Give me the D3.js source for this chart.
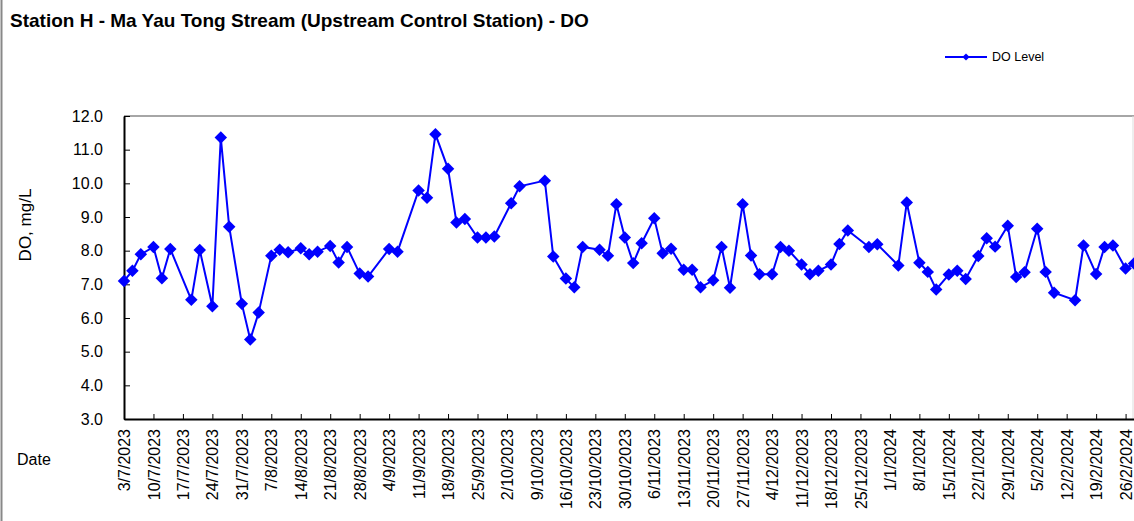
<!DOCTYPE html>
<html>
<head>
<meta charset="utf-8">
<script src="https://cdn.jsdelivr.net/npm/d3@7"></script>
<style>
  body { margin: 0; background: #fff; }
  svg { display: block; font-family: Arial, "Liberation Sans", sans-serif; }
</style>
</head>
<body>
<div id="myChart"></div>
<script>
// sampling dates and DO readings (mg/L)
const sampleDates = [
  "2023-07-03","2023-07-05","2023-07-07","2023-07-10","2023-07-12","2023-07-14","2023-07-19","2023-07-21",
  "2023-07-24","2023-07-26","2023-07-28","2023-07-31","2023-08-02","2023-08-04","2023-08-07","2023-08-09",
  "2023-08-11","2023-08-14","2023-08-16","2023-08-18","2023-08-21","2023-08-23","2023-08-25","2023-08-28",
  "2023-08-30","2023-09-04","2023-09-06","2023-09-11","2023-09-13","2023-09-15","2023-09-18","2023-09-20",
  "2023-09-22","2023-09-25","2023-09-27","2023-09-29","2023-10-03","2023-10-05","2023-10-11","2023-10-13",
  "2023-10-16","2023-10-18","2023-10-20","2023-10-24","2023-10-26","2023-10-28","2023-10-30","2023-11-01",
  "2023-11-03","2023-11-06","2023-11-08","2023-11-10","2023-11-13","2023-11-15","2023-11-17","2023-11-20",
  "2023-11-22","2023-11-24","2023-11-27","2023-11-29","2023-12-01","2023-12-04","2023-12-06","2023-12-08",
  "2023-12-11","2023-12-13","2023-12-15","2023-12-18","2023-12-20","2023-12-22","2023-12-27","2023-12-29",
  "2024-01-03","2024-01-05","2024-01-08","2024-01-10","2024-01-12","2024-01-15","2024-01-17","2024-01-19",
  "2024-01-22","2024-01-24","2024-01-26","2024-01-29","2024-01-31","2024-02-02","2024-02-05","2024-02-07",
  "2024-02-09","2024-02-14","2024-02-16","2024-02-19","2024-02-21","2024-02-23","2024-02-26","2024-02-28"
];
const doLevel = [
  7.10, 7.40, 7.89, 8.11, 7.18, 8.05, 6.54, 8.02,
  6.35, 11.36, 8.71, 6.42, 5.36, 6.16, 7.85, 8.03,
  7.95, 8.07, 7.89, 7.97, 8.14, 7.65, 8.11, 7.32,
  7.23, 8.05, 7.97, 9.79, 9.57, 11.46, 10.43, 8.84,
  8.94, 8.39, 8.39, 8.42, 9.41, 9.91, 10.08, 7.83,
  7.17, 6.91, 8.11, 8.03, 7.85, 9.38, 8.39, 7.63,
  8.22, 8.96, 7.92, 8.06, 7.43, 7.43, 6.91, 7.12,
  8.11, 6.90, 9.38, 7.86, 7.30, 7.30, 8.11, 8.00,
  7.59, 7.30, 7.40, 7.59, 8.20, 8.60, 8.11, 8.19,
  7.56, 9.43, 7.64, 7.37, 6.85, 7.29, 7.40, 7.16,
  7.84, 8.37, 8.12, 8.74, 7.22, 7.36, 8.65, 7.37,
  6.75, 6.53, 8.15, 7.31, 8.11, 8.15, 7.47, 7.62
];
const yTicks = [3, 4, 5, 6, 7, 8, 9, 10, 11, 12];
const firstTick = "2023-07-03";
const lastTick = "2024-02-26";
const axisEnd = "2024-02-28";

const w = 1134;
const h = 521;
const parse = d3.timeParse("%Y-%m-%d");
const dataset = sampleDates.map((d, i) => ({ date: parse(d), value: doLevel[i] }));

const xScale = d3.scaleTime()
    .domain([parse(firstTick), parse(axisEnd)])
    .range([124, 1134]);
const yScale = d3.scaleLinear().domain([3, 12]).range([419, 116]);

const svg = d3.select("#myChart")
    .append("svg")
    .attr("width", w)
    .attr("height", h);

// chart outer border
svg.append("rect")
    .attr("x", 1.5).attr("y", -5)
    .attr("width", w + 5).attr("height", h + 10)
    .attr("fill", "none").attr("stroke", "#888").attr("stroke-width", 2);

svg.append("text")
    .text("Station H - Ma Yau Tong Stream (Upstream Control Station) - DO")
    .attr("x", 10).attr("y", 27)
    .style("font-weight", "bold")
    .style("font-size", "19px");

// plot area frame: top and right light grey
svg.append("line")
    .attr("x1", 124).attr("x2", 1134).attr("y1", 116).attr("y2", 116)
    .attr("stroke", "#888").attr("stroke-width", 1.5);
svg.append("line")
    .attr("x1", 1133).attr("x2", 1133).attr("y1", 116).attr("y2", 419)
    .attr("stroke", "#ddd").attr("stroke-width", 1);

const ticks = d3.timeMonday.range(parse(firstTick), d3.timeDay.offset(parse(lastTick), 1));
const xAxis = d3.axisBottom(xScale)
    .tickValues(ticks)
    .tickFormat(d3.timeFormat("%-d/%-m/%Y"))
    .tickSizeInner(-5).tickSizeOuter(0);
const yAxis = d3.axisLeft(yScale)
    .tickValues(yTicks)
    .tickFormat(d3.format(".1f"))
    .tickSizeInner(-6).tickSizeOuter(0);

const gx = svg.append("g")
    .attr("id", "x-axis")
    .attr("transform", "translate(0," + 419 + ")")
    .call(xAxis);
gx.select(".domain").attr("stroke", "#000").attr("stroke-width", 2);
gx.selectAll(".tick line").attr("stroke", "#000");
gx.selectAll(".tick text")
    .style("font-size", "16px")
    .attr("fill", "#000")
    .attr("transform", "rotate(-90)")
    .attr("text-anchor", "end")
    .attr("x", -10)
    .attr("y", 0)
    .attr("dy", "0.35em");

const gy = svg.append("g")
    .attr("id", "y-axis")
    .attr("transform", "translate(124,0)")
    .call(yAxis);
gy.select(".domain").attr("stroke", "#000").attr("stroke-width", 2);
gy.selectAll(".tick line").attr("stroke", "#000");
gy.selectAll(".tick text")
    .style("font-size", "16px")
    .attr("fill", "#000")
    .attr("x", -21);

svg.append("text")
    .text("DO, mg/L")
    .attr("transform", "translate(31,225) rotate(-90)")
    .attr("text-anchor", "middle")
    .style("font-size", "17px");

svg.append("text")
    .text("Date")
    .attr("x", 17).attr("y", 465)
    .style("font-size", "16px");

const line = d3.line()
    .x((d) => xScale(d.date))
    .y((d) => yScale(d.value));

svg.append("path")
    .datum(dataset)
    .attr("d", line)
    .attr("fill", "none")
    .attr("stroke", "#0000FF")
    .attr("stroke-width", 2);

const marker = d3.symbol().type(d3.symbolSquare).size(78);
svg.selectAll(".dot")
    .data(dataset)
    .enter()
    .append("path")
    .attr("class", "dot")
    .attr("d", marker)
    .attr("transform", (d) => "translate(" + xScale(d.date) + "," + yScale(d.value) + ") rotate(45)")
    .attr("fill", "#0000FF");

// legend
const legend = svg.append("g").attr("id", "legend").attr("transform", "translate(945,57)");
legend.append("line")
    .attr("x1", 0).attr("x2", 42).attr("y1", 0).attr("y2", 0)
    .attr("stroke", "#0000FF").attr("stroke-width", 2);
legend.append("path")
    .attr("d", d3.symbol().type(d3.symbolSquare).size(26))
    .attr("transform", "translate(21,0) rotate(45)")
    .attr("fill", "#0000FF");
legend.append("text")
    .text("DO Level")
    .attr("x", 47).attr("y", 0).attr("dy", "0.35em")
    .style("font-size", "12.5px");
</script>
</body>
</html>
